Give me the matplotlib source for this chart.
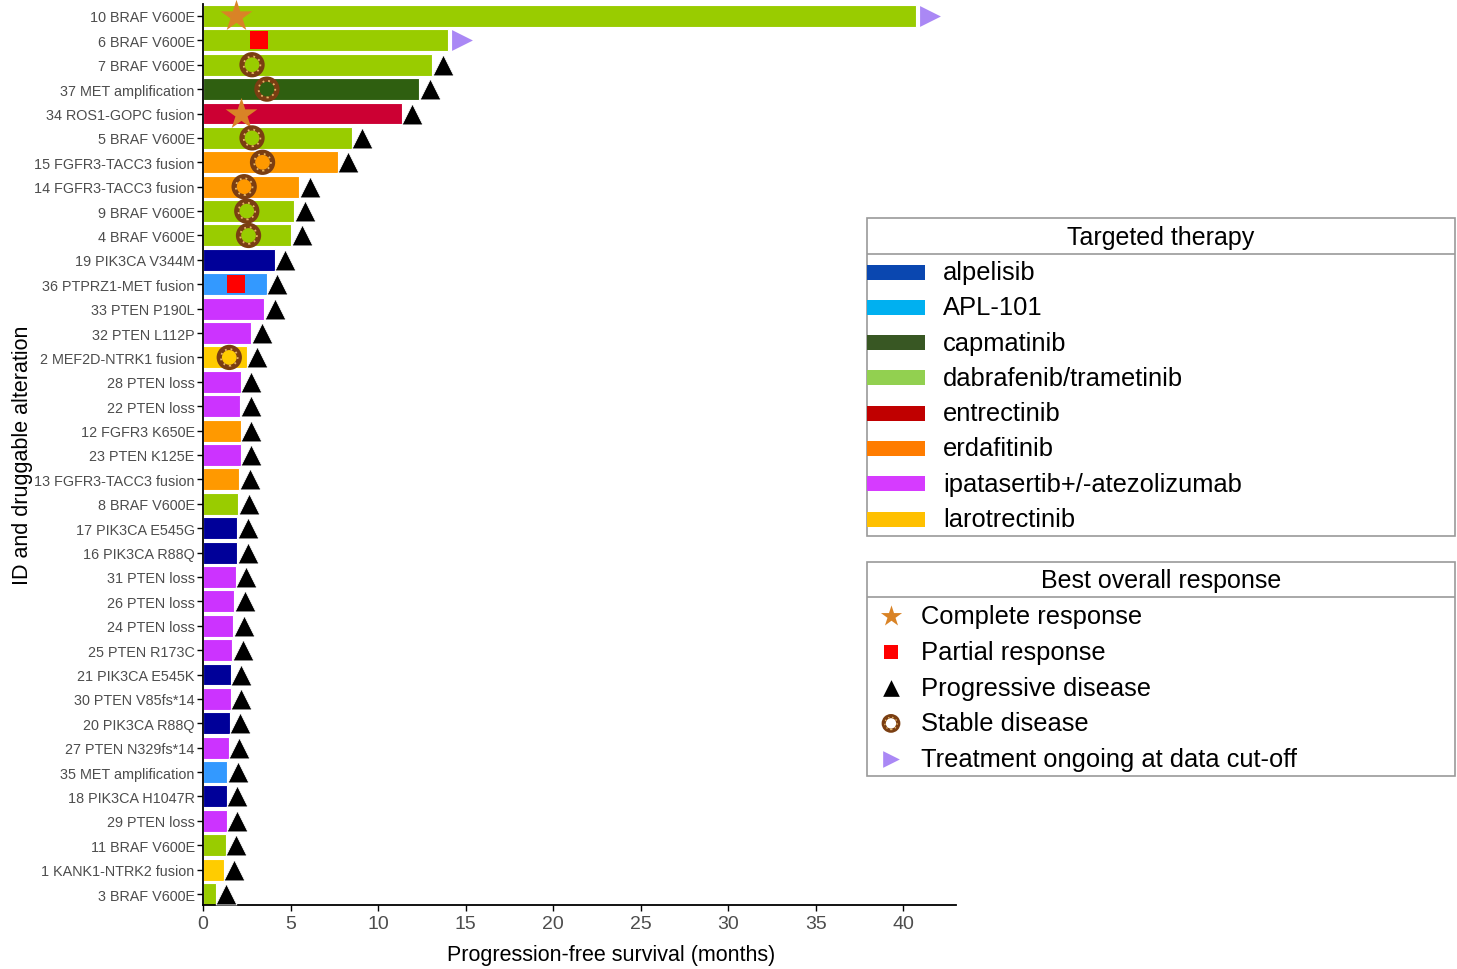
import matplotlib
matplotlib.use("Agg")
import matplotlib.pyplot as plt
import numpy as np
from matplotlib.patches import Rectangle

plt.rcParams['font.family'] = ['Liberation Sans', 'DejaVu Sans']

# patients, top to bottom
labels = ["10 BRAF V600E", "6 BRAF V600E", "7 BRAF V600E", "37 MET amplification",
          "34 ROS1-GOPC fusion", "5 BRAF V600E", "15 FGFR3-TACC3 fusion",
          "14 FGFR3-TACC3 fusion", "9 BRAF V600E", "4 BRAF V600E", "19 PIK3CA V344M",
          "36 PTPRZ1-MET fusion", "33 PTEN P190L", "32 PTEN L112P", "2 MEF2D-NTRK1 fusion",
          "28 PTEN loss", "22 PTEN loss", "12 FGFR3 K650E", "23 PTEN K125E",
          "13 FGFR3-TACC3 fusion", "8 BRAF V600E", "17 PIK3CA E545G", "16 PIK3CA R88Q",
          "31 PTEN loss", "26 PTEN loss", "24 PTEN loss", "25 PTEN R173C",
          "21 PIK3CA E545K", "30 PTEN V85fs*14", "20 PIK3CA R88Q", "27 PTEN N329fs*14",
          "35 MET amplification", "18 PIK3CA H1047R", "29 PTEN loss", "11 BRAF V600E",
          "1 KANK1-NTRK2 fusion", "3 BRAF V600E"]
pfs = [40.7, 14.0, 13.1, 12.35, 11.35, 8.5, 7.7, 5.5, 5.2, 5.05, 4.1, 3.65, 3.5, 2.75,
       2.5, 2.15, 2.13, 2.15, 2.15, 2.07, 2.02, 1.96, 1.96, 1.88, 1.77, 1.73, 1.67,
       1.58, 1.58, 1.52, 1.47, 1.39, 1.37, 1.37, 1.31, 1.18, 0.74]
therapy = ["dab", "dab", "dab", "cap", "ent", "dab", "erd", "erd", "dab", "dab", "alp",
           "apl", "ipa", "ipa", "lar", "ipa", "ipa", "erd", "ipa", "erd", "dab", "alp",
           "alp", "ipa", "ipa", "ipa", "ipa", "alp", "ipa", "alp", "ipa", "apl", "alp",
           "ipa", "dab", "lar", "dab"]
# best response (other than progression) and when it was seen
resp_type = ["CR", "PR", "SD", "SD", "CR", "SD", "SD", "SD", "SD", "SD", None,
             "PR", None, None, "SD"] + [None] * 22
resp_time = [1.9, 3.2, 2.8, 3.65, 2.15, 2.8, 3.4, 2.35, 2.5, 2.6, None,
             1.9, None, None, 1.5] + [None] * 22
ongoing = [True, True] + [False] * 35

bar_colors = {"alp": "#000099", "apl": "#3399FF", "cap": "#2F5F10", "dab": "#99CC00",
              "ent": "#CC0033", "erd": "#FF9900", "ipa": "#CC33FF", "lar": "#FFCC00"}
legend_names = ["alpelisib", "APL-101", "capmatinib", "dabrafenib/trametinib",
                "entrectinib", "erdafitinib", "ipatasertib+/-atezolizumab", "larotrectinib"]
legend_colors = ["#0A47B0", "#00B0F0", "#385723", "#92D050", "#C00000", "#FF7C00",
                 "#D63BFF", "#FFC000"]
response_names = ["Complete response", "Partial response", "Progressive disease",
                  "Stable disease", "Treatment ongoing at data cut-off"]

STAR = "#D98326"
BROWN = "#7A3E12"
TAN = "#E8B868"
LAV = "#AA88F5"

fig = plt.figure(figsize=(14.57, 9.70), dpi=100)
ax = fig.add_axes([203 / 1457, 64 / 970, 753 / 1457, 901 / 970])

y = np.arange(len(labels))
pfs = np.array(pfs)
ax.barh(y, pfs, height=0.9, color=[bar_colors[t] for t in therapy],
        edgecolor="white", linewidth=0.8, zorder=2)

# end-of-bar markers
ong = np.array(ongoing)
ax.scatter(pfs[~ong] + 0.6, y[~ong], marker="^", s=15 ** 2, color="black",
           edgecolors="white", linewidths=0.6, zorder=4, clip_on=False)
ax.scatter(pfs[ong] + 0.8, y[ong], marker=">", s=15 ** 2, color=LAV,
           linewidths=0, zorder=4, clip_on=False)

# best response markers
for kind in ["CR", "PR", "SD"]:
    idx = [i for i, r in enumerate(resp_type) if r == kind]
    xs = [resp_time[i] for i in idx]
    if kind == "CR":
        ax.scatter(xs, idx, marker="*", s=24 ** 2, color=STAR, linewidths=0,
                   zorder=5, clip_on=False)
    elif kind == "PR":
        ax.scatter(xs, idx, marker="s", s=13.5 ** 2, color="#FF0000", linewidths=0,
                   zorder=5)
    else:
        ax.scatter(xs, idx, marker="o", s=14.4 ** 2, facecolors="none",
                   edgecolors=BROWN, linewidths=3.8, zorder=5)
        ax.scatter(xs, idx, marker="o", s=12.0 ** 2, facecolors="none",
                   edgecolors=TAN, linewidths=1.3, linestyles=(0, (1, 2.2)), zorder=6)

ax.set_ylim(len(labels) - 0.55, -0.49)
ax.set_xlim(0, 43)
ax.set_yticks(y)
ax.set_yticklabels(labels, fontsize=10.4, color="#4D4D4D")
ax.set_xticks(np.arange(0, 41, 5))
ax.tick_params(axis="x", labelsize=14, labelcolor="#4D4D4D", length=4, width=1, pad=3)
ax.tick_params(axis="y", length=4, width=1, pad=2)
for s in ["top", "right"]:
    ax.spines[s].set_visible(False)
for s in ["left", "bottom"]:
    ax.spines[s].set_linewidth(1.3)
ax.set_xlabel("Progression-free survival (months)", fontsize=15.5)
ax.xaxis.set_label_coords(0.542, -0.043)
ax.set_ylabel("ID and druggable alteration", fontsize=15.5, labelpad=1)

# legend 1: targeted therapy
lg1 = fig.add_axes([867 / 1457, 1 - 537 / 970, 588 / 1457, 318 / 970])
lg1.set_xlim(0, 588)
lg1.set_ylim(318, 0)
lg1.axis("off")
lg1.add_patch(Rectangle((0, 0), 588, 318, fill=False, ec="#9A9A9A", lw=1.2, clip_on=False))
lg1.plot([0, 588], [36, 36], color="#9A9A9A", lw=1.2)
lg1.text(294, 19, "Targeted therapy", ha="center", va="center", fontsize=18)
for i, (name, col) in enumerate(zip(legend_names, legend_colors)):
    yy = 54 + i * 35.3
    lg1.add_patch(Rectangle((0, yy - 7.5), 58, 15, color=col, lw=0))
    lg1.text(76, yy, name, va="center", fontsize=18.4)

# legend 2: best overall response
lg2 = fig.add_axes([867 / 1457, 1 - 777 / 970, 588 / 1457, 214 / 970])
lg2.set_xlim(0, 588)
lg2.set_ylim(214, 0)
lg2.axis("off")
lg2.add_patch(Rectangle((0, 0), 588, 214, fill=False, ec="#9A9A9A", lw=1.2, clip_on=False))
lg2.plot([0, 588], [35, 35], color="#9A9A9A", lw=1.2)
lg2.text(294, 18, "Best overall response", ha="center", va="center", fontsize=18)
ys = [54 + i * 35.8 for i in range(5)]
lg2.scatter([24], [ys[0]], marker="*", s=16 ** 2, color=STAR, linewidths=0)
lg2.scatter([24], [ys[1]], marker="s", s=10 ** 2, color="#FF0000", linewidths=0)
lg2.scatter([24], [ys[2]], marker="^", s=12 ** 2, color="black", linewidths=0)
lg2.scatter([24], [ys[3]], marker="o", s=10.5 ** 2, facecolors="none",
            edgecolors=BROWN, linewidths=3, zorder=3)
lg2.scatter([24], [ys[3]], marker="o", s=8.8 ** 2, facecolors="none",
            edgecolors=TAN, linewidths=1.0, linestyles=(0, (1, 2)), zorder=4)
lg2.scatter([24], [ys[4]], marker=">", s=12 ** 2, color=LAV, linewidths=0)
for i, name in enumerate(response_names):
    lg2.text(54, ys[i], name, va="center", fontsize=18.4)

fig.savefig("out.png", dpi=100)
